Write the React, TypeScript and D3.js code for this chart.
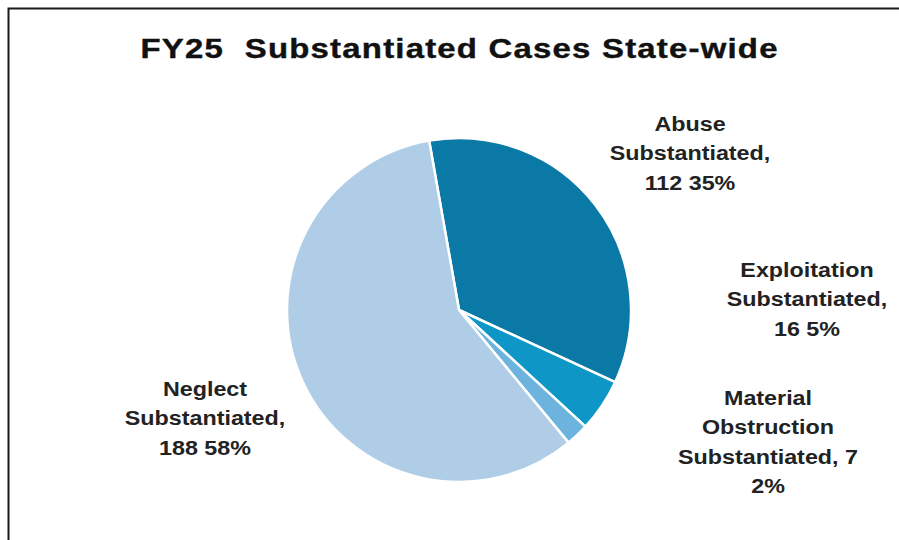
import React from "react";
import * as d3 from "d3";

const categories = [
  "Abuse Substantiated",
  "Exploitation Substantiated",
  "Material Obstruction Substantiated",
  "Neglect Substantiated",
];
const values = [112, 16, 7, 188];
const percents = ["35%", "5%", "2%", "58%"];
const colors = ["#0b79a6", "#0e96c7", "#6cb3dd", "#afcde6"];
const labelLines = [
  ["Abuse", "Substantiated,", `${values[0]} ${percents[0]}`],
  ["Exploitation", "Substantiated,", `${values[1]} ${percents[1]}`],
  ["Material", "Obstruction", `Substantiated, ${values[2]}`, percents[2]],
  ["Neglect", "Substantiated,", `${values[3]} ${percents[3]}`],
];
const title = "FY25\u00a0 Substantiated Cases State-wide";

const W = 899;
const H = 540;
const cx = 459;
const cy = 310;
const R = 172;
const startDeg = -10;

// label anchor positions (center x, first baseline y)
const labelPos: [number, number][] = [
  [690, 131],
  [807, 277],
  [768, 405],
  [205, 396],
];
const lineH = 29.5;
const labelStretch = 1.11;
const titleStretch = 1.22;

export default function App() {
  const start = (startDeg * Math.PI) / 180;
  const pie = d3
    .pie<number>()
    .sort(null)
    .value((d) => d)
    .startAngle(start)
    .endAngle(start + 2 * Math.PI);
  const arcs = pie(values);
  const arc = d3.arc<d3.PieArcDatum<number>>().innerRadius(0).outerRadius(R);
  const font = "'Liberation Sans', Arial, sans-serif";

  return (
    <svg
      width={W}
      height={H}
      style={{ position: "absolute", left: 0, top: 0, background: "#fff" }}
    >
      <rect x={0} y={0} width={W} height={H} fill="#fff" />
      <rect
        x={8.5}
        y={8.5}
        width={W + 20}
        height={H + 20}
        fill="none"
        stroke="#1a1a1a"
        strokeWidth={2}
      />
      <g transform={`translate(459,58) scale(${titleStretch},1)`}>
        <text
          x={0}
          y={0}
          textAnchor="middle"
          fontFamily={font}
          fontWeight={700}
          fontSize={27}
          fill="#111"
          stroke="#111"
          strokeWidth={0.4}
          textLength={637 / titleStretch}
          lengthAdjust="spacing"
        >
          {title}
        </text>
      </g>
      <g transform={`translate(${cx},${cy})`}>
        {arcs.map((a, i) => (
          <path
            key={categories[i]}
            d={arc(a) || ""}
            fill={colors[i]}
            stroke="#fff"
            strokeWidth={2.5}
            strokeLinejoin="round"
          />
        ))}
      </g>
      {labelLines.map((lines, i) => (
        <g
          key={categories[i]}
          transform={`translate(${labelPos[i][0]},${labelPos[i][1]}) scale(${labelStretch},1)`}
        >
          <text
            textAnchor="middle"
            fontFamily={font}
            fontWeight={700}
            fontSize={21}
            fill="#222"
          >
            {lines.map((ln, j) => (
              <tspan key={j} x={0} y={j * lineH}>
                {ln}
              </tspan>
            ))}
          </text>
        </g>
      ))}
    </svg>
  );
}
